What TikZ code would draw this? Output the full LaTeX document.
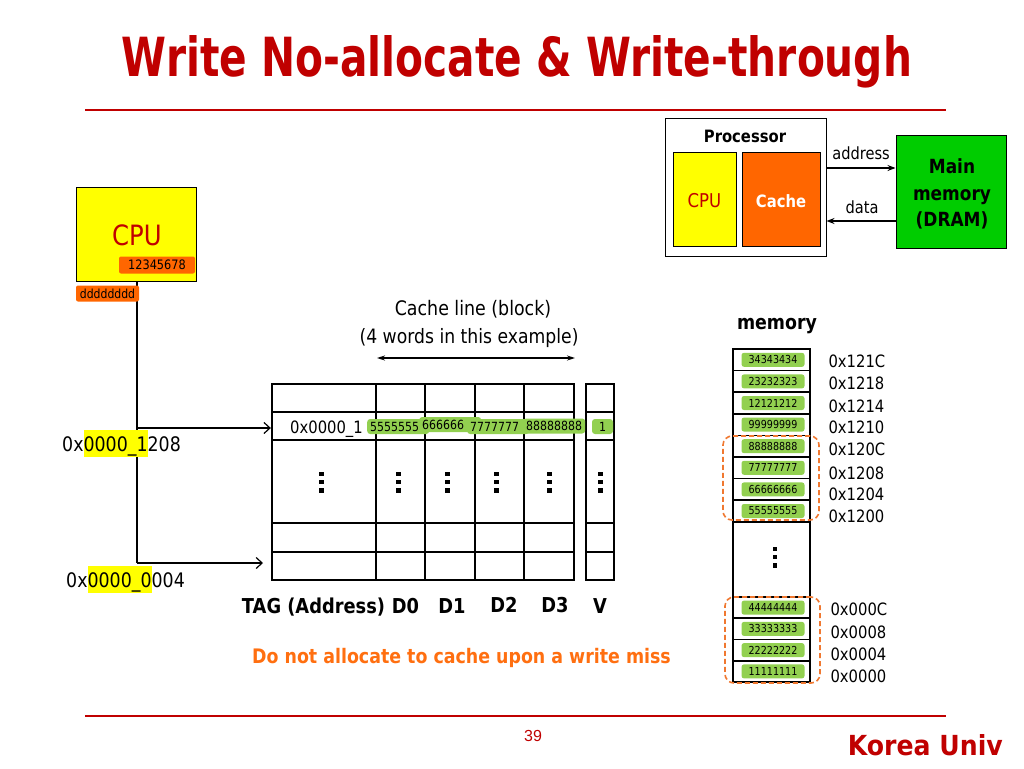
\documentclass[tikz,border=0pt]{standalone}
\usepackage{fontspec}
\setmainfont{DejaVu Sans}[FakeStretch=0.87]
\newfontfamily\arialf{Liberation Sans}
\usepackage{graphicx}
\usetikzlibrary{arrows.meta}
\definecolor{titlered}{HTML}{C00000}
\definecolor{cpured}{HTML}{C00000}
\definecolor{cpuyellow}{HTML}{FFFF00}
\definecolor{hlyellow}{HTML}{FFFF00}
\definecolor{orng}{HTML}{FF6600}
\definecolor{lgreen}{HTML}{92D050}
\definecolor{dgreen}{HTML}{00CC00}
\definecolor{dashorange}{HTML}{F07830}
\definecolor{notetext}{HTML}{FF6F10}
\newcommand\fsz[2]{\fontsize{#1}{#2}\selectfont}
\newcommand\hlt[1]{{\setlength{\fboxsep}{0pt}\colorbox{hlyellow}{\rule[-6pt]{0pt}{27pt}#1}}}
\newcommand\sqdots[2]{%
  \fill ({#1-2.25},{#2-10.5}) rectangle ++(4.5,4.5);
  \fill ({#1-2.25},{#2-2.25}) rectangle ++(4.5,4.5);
  \fill ({#1-2.25},{#2+6}) rectangle ++(4.5,4.5);}
\begin{document}
\begin{tikzpicture}[x=1pt,y=-1pt,
  thinline/.style={line width=1.2pt},
  arr/.style={thinline,-{Stealth[length=8pt,width=6pt]}},
  dblarr/.style={thinline,{Stealth[length=8pt,width=5pt]}-{Stealth[length=8pt,width=5pt]}},
  barb/.style={thinline,-{Straight Barb[length=6pt,width=11pt]}},
  grid/.style={line width=1.7pt},
  cell/.style={draw, line width=1.7pt, minimum width=77pt, inner sep=0pt},
  gbox/.style={fill=lgreen, rounded corners=2.5pt, inner sep=0pt, minimum width=63pt, minimum height=14pt, font=\fsz{11}{12}},
  rowbox/.style={fill=lgreen, rounded corners=3pt, inner xsep=3pt, inner ysep=0pt, text width=56pt, align=left, minimum height=15pt, font=\fsz{12.6}{14}},
  obox/.style={fill=orng, rounded corners=2pt, inner sep=0pt},
  addr/.style={anchor=west, font=\fsz{17}{20}},
  dashgrp/.style={draw=dashorange, dash pattern=on 5pt off 3pt, line width=1.6pt, rounded corners=9pt, inner sep=0pt},
  hdr/.style={anchor=base, font=\bfseries\fsz{20.5}{24}},
]
\useasboundingbox (0,0) rectangle (1024,768);
\fill[white] (0,0) rectangle (1024,768);

% title and rules
\node[text=titlered, anchor=base, inner sep=0] (title) at (517,76) {\resizebox{790pt}{41pt}{\bfseries Write No-allocate \& Write-through}};
\draw[titlered, line width=2pt] (85,110) -- (946,110);
\draw[titlered, line width=2pt] (85,716) -- (946,716);
\node[text=titlered, font=\arialf\fsz{16}{19}] (pg) at (533,736) {39};
\node[text=titlered, anchor=base east, inner sep=0] (ku) at (1003,755) {\resizebox{155pt}{21pt}{\bfseries Korea Univ}};

% processor / main memory
\node[draw, fill=white, line width=1pt, minimum width=161pt, minimum height=138pt, inner sep=0] (proc) at (745.5,187) {};
\node[font=\bfseries\fsz{17}{20}] (proclbl) at (745,136) {Processor};
\node[draw, fill=cpuyellow, line width=0.6pt, minimum width=63pt, minimum height=94pt, inner sep=0] (pcpu) at (704.5,199) {};
\node[text=cpured, font=\fsz{19}{22}] (pcputxt) at (704.5,201) {CPU};
\node[draw, fill=orng, line width=0.6pt, minimum width=78pt, minimum height=94pt, inner sep=0] (pcache) at (781,199) {};
\node[text=white, font=\bfseries\fsz{17}{20}] (pcachetxt) at (781,201) {Cache};
\node[draw, fill=dgreen, line width=1pt, minimum width=110pt, minimum height=113pt, inner sep=0] (mainmem) at (951,191.5) {};
\node[align=center, font=\bfseries\fsz{19.5}{26.5}] (mmtxt) at (952,194) {Main\\memory\\(DRAM)};
\coordinate (ay) at (860,168);
\coordinate (dy) at (860,221);
\draw[arr] (proc.east |- ay) -- (mainmem.west |- ay);
\draw[arr] (mainmem.west |- dy) -- (proc.east |- dy);
\node[font=\fsz{16.8}{19}] (addrlbl) at (861,153) {address};
\node[font=\fsz{16.8}{19}] (datalbl) at (862,207) {data};

% left CPU
\node[draw, fill=cpuyellow, line width=0.8pt, minimum width=120pt, minimum height=94pt, inner sep=0] (cpu) at (136,234) {};
\node[text=cpured, font=\fsz{28}{32}] (cputxt) at (137,235) {CPU};
\node[obox, minimum width=76pt, minimum height=17pt, font=\fsz{13}{14}] (reg) at (157,265) {12345678};
\coordinate (vtop) at (137,281);
\coordinate (j1) at (137,428);
\coordinate (vbot) at (137,563);
\coordinate (a2end) at (263,563);

% cache table
\node[draw, line width=2.3pt, minimum width=302pt, minimum height=196pt, inner sep=0] (tbl) at (423,482) {};
\node[draw, line width=2pt, minimum width=28pt, minimum height=196pt, inner sep=0] (vbx) at (600,482) {};
\foreach \x in {376,425,475,524} \draw[grid] (\x,384) -- (\x,580);
\foreach \y in {412,440,523,552} {
  \draw[grid] (272,\y) -- (574,\y);
  \draw[grid] (586,\y) -- (614,\y);
}

\draw[thinline] (vtop) -- (vbot);
\draw[barb] (vbot) -- (a2end);
\draw[barb] (j1) -- (tbl.west |- j1);
\node[obox, minimum width=63pt, minimum height=16pt, font=\fsz{12.5}{14}] (dd) at (107.5,293.5) {dddddddd};

\node[anchor=base west, font=\fsz{20}{23}, inner sep=0] (adrA) at (62,451) {0x\hlt{0000\_1}208};
\node[anchor=base west, font=\fsz{20}{23}, inner sep=0] (adrB) at (66,587) {0x\hlt{0000\_0}004};

\node[anchor=base west, font=\fsz{17}{20}, inner sep=0] (tag1) at (290,433) {0x0000\_1};
\node[rowbox, anchor=west] (c0) at (367,426.5) {5555555};
\node[rowbox, anchor=west] (c1) at (419,424.5) {666666};
\node[rowbox, anchor=west] (c2) at (467,426.5) {7777777};
\node[rowbox, anchor=west] (c3) at (523,426) {88888888};
\node[fill=lgreen, rounded corners=3pt, inner sep=0, minimum width=21pt, minimum height=15pt, font=\fsz{12.6}{14}] (vbit) at (602.5,426.5) {1};

\foreach \x in {321.7,398.3,447.7,496.7,549.3,600.7} { \sqdots{\x}{482} }

\node[font=\fsz{20}{22}] (cl1) at (473,309) {Cache line (block)};
\node[font=\fsz{19.8}{22}] (cl2) at (469,338) {(4 words in this example)};
\coordinate (cla) at (377,358);
\coordinate (clb) at (575,358);
\draw[dblarr] (cla) -- (clb);

\node[hdr] (hTag) at (313.5,613) {TAG (Address)};
\node[hdr] (hD0) at (405.5,613) {D0};
\node[hdr] (hD1) at (452,613) {D1};
\node[hdr] (hD2) at (504,612) {D2};
\node[hdr] (hD3) at (555,612) {D3};
\node[hdr] (hV) at (600,613) {V};

\node[text=notetext, font=\bfseries\fsz{20}{23}] (note) at (461.5,658) {Do not allocate to cache upon a write miss};

% memory column
\node[font=\bfseries\fsz{20}{22}] (memlbl) at (777,326) {memory};
\foreach \i/\v/\a/\ay in {1/34343434/121C/361, 2/23232323/1218/383, 3/12121212/1214/406, 4/99999999/1210/427, 5/88888888/120C/449, 6/77777777/1208/473, 7/66666666/1204/494, 8/55555555/1200/516} {
  \pgfmathsetmacro\yc{349+21.6*(\i-0.5)}
  \node[cell, minimum height=21.6pt] (m\i) at (771.5,\yc) {};
  \node[gbox] (g\i) at (773,\yc) {\v};
  \node[addr] (ad\i) at (825,\ay) {0x\a};
}
\node[cell, minimum height=75.2pt] (mgap) at (771.5,559.4) {};
\sqdots{775}{557}
\foreach \i/\v/\a/\ay in {9/44444444/000C/609, 10/33333333/0008/632, 11/22222222/0004/654, 12/11111111/0000/676} {
  \pgfmathsetmacro\yc{597+21.25*(\i-8.5)}
  \node[cell, minimum height=21.25pt] (m\i) at (771.5,\yc) {};
  \node[gbox] (g\i) at (773,\yc) {\v};
  \node[addr] (ad\i) at (827,\ay) {0x\a};
}
\node[dashgrp, minimum width=96pt, minimum height=84pt] (grp1) at (771,478) {};
\node[dashgrp, minimum width=95pt, minimum height=86pt] (grp2) at (772.5,640) {};
\end{tikzpicture}
\end{document}
